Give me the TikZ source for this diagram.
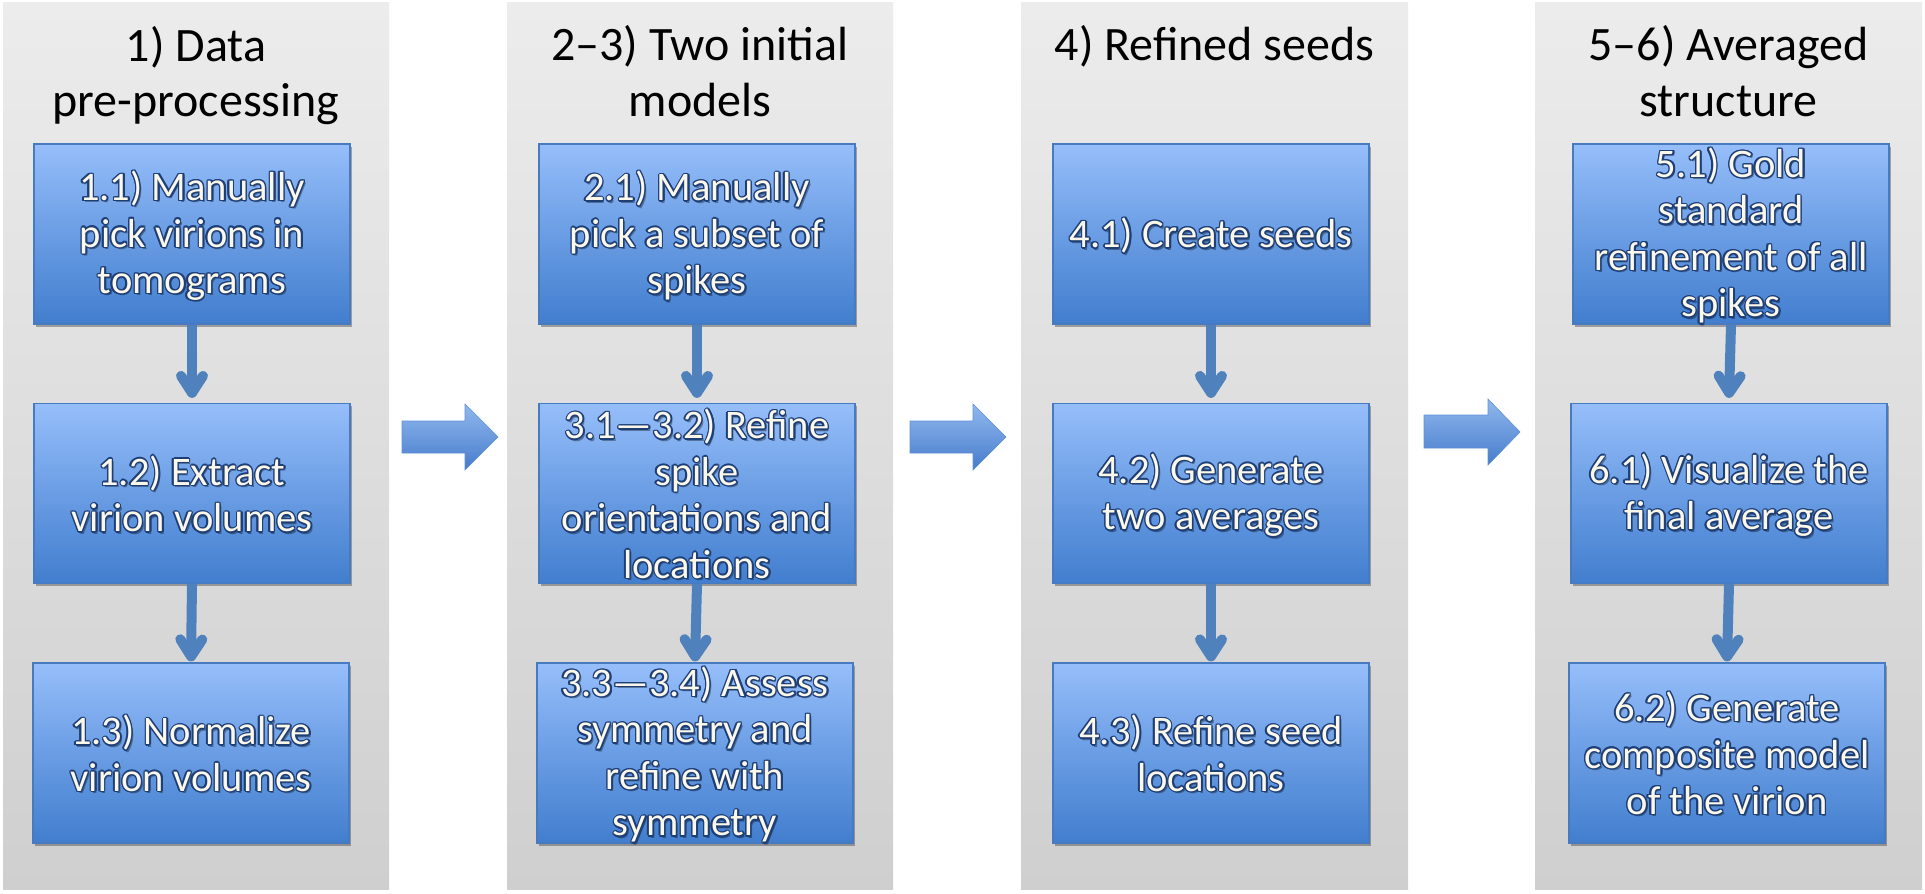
\documentclass[tikz,border=0pt]{standalone}
\usepackage{fontspec}
\setmainfont{Carlito}
\usetikzlibrary{arrows.meta,shadows}
\definecolor{panTop}{RGB}{236,236,236}
\definecolor{panBot}{RGB}{207,207,207}
\definecolor{boxTop}{RGB}{150,190,250}
\definecolor{boxMid}{RGB}{106,157,228}
\definecolor{boxBot}{RGB}{66,126,206}
\definecolor{boxLine}{RGB}{72,122,192}
\definecolor{arrC}{RGB}{79,129,189}
\definecolor{bigTop}{RGB}{145,184,238}
\definecolor{bigBot}{RGB}{70,124,204}
\definecolor{bigLine}{RGB}{95,145,215}
\definecolor{txtCream}{RGB}{251,248,234}
\definecolor{txtDark}{RGB}{30,62,118}
\newcommand\boxtxt[2]{%
  \node[bt,text=black,opacity=0.35] (#1-sh) at ([shift={(1.8pt,-2.4pt)}]#1.center) {\rule{0pt}{33pt}#2\rule[-3pt]{0pt}{3pt}};
  \foreach \ang in {0,30,...,330}{%
    \node[bt,text=txtDark] (#1-o\ang) at ([shift={(\ang:1.4pt)}]#1.center) {\rule{0pt}{33pt}#2\rule[-3pt]{0pt}{3pt}};}
  \node[bt] (#1-t) at (#1.center) {\rule{0pt}{33pt}#2\rule[-3pt]{0pt}{3pt}};}
\begin{document}
\begin{tikzpicture}[x=1pt,y=1pt,
  panel/.style={top color=panTop,bottom color=panBot},
  bx/.style={draw=boxLine,line width=1.2pt,minimum width=316pt,minimum height=180pt,inner sep=0pt,
    top color=boxTop,bottom color=boxBot,middle color=boxMid,
    drop shadow={shadow xshift=1.5pt,shadow yshift=-2.5pt,opacity=0.3,fill=black}},
  bt/.style={text=txtCream,align=center,font=\fontsize{40.5}{46.5}\selectfont,inner sep=0pt},
  ttl/.style={text=black,font=\fontsize{48}{56}\selectfont,anchor=base,inner sep=0pt},
  varrow/.style={draw=arrC,line width=10pt,-{Straight Barb[length=17pt,width=22pt,round]}},
  bigarrow/.style={top color=bigTop,bottom color=bigBot,draw=bigLine,line width=0.6pt}
]
\fill[white] (0,0) rectangle (1925,-894);
\useasboundingbox (0,0) rectangle (1925,-894);
% panels
\shade[panel] (3,-2) rectangle (389,-889);
\shade[panel] (507,-2) rectangle (893,-889);
\shade[panel] (1021,-2) rectangle (1408,-889);
\shade[panel] (1535,-2) rectangle (1922,-889);
% titles
\node[ttl] (t1a) at (196,-61) {1) Data};
\node[ttl] (t1b) at (196,-116) {pre-processing};
\node[ttl] (t2a) at (700,-60) {2–3) Two initial};
\node[ttl] (t2b) at (700,-116) {models};
\node[ttl] (t3a) at (1214.5,-60) {4) Refined seeds};
\node[ttl] (t4a) at (1728.5,-60) {5–6) Averaged};
\node[ttl] (t4b) at (1728.5,-116) {structure};
% big arrows
\shade[bigarrow] (402,-421) -- (465,-421) -- (465,-404) -- (498,-437) -- (465,-470) -- (465,-453) -- (402,-453) -- cycle;
\shade[bigarrow] (910,-421) -- (973,-421) -- (973,-404) -- (1006,-437) -- (973,-470) -- (973,-453) -- (910,-453) -- cycle;
\shade[bigarrow] (1424,-415) -- (1488,-415) -- (1488,-399) -- (1520,-432) -- (1488,-465) -- (1488,-448) -- (1424,-448) -- cycle;
% boxes
\node[bx] (b11) at (192,-234) {};
\node[bx] (b12) at (192,-493.5) {};
\node[bx] (b13) at (191,-753) {};
\node[bx] (b21) at (697,-234) {};
\node[bx] (b31) at (697,-493.5) {};
\node[bx] (b33) at (695,-753) {};
\node[bx] (b41) at (1211,-234) {};
\node[bx] (b42) at (1211,-493.5) {};
\node[bx] (b43) at (1211,-753) {};
\node[bx] (b51) at (1731,-234) {};
\node[bx] (b61) at (1729,-493.5) {};
\node[bx] (b62) at (1727,-753) {};
% vertical arrows
\draw[varrow] (b11.south) -- ([yshift=5pt]b12.north);
\draw[varrow] (b12.south) -- ([yshift=1pt]b13.north);
\draw[varrow] (b21.south) -- ([yshift=5pt]b31.north);
\draw[varrow] (b31.south) -- ([yshift=1pt]b33.north);
\draw[varrow] (b41.south) -- ([yshift=5pt]b42.north);
\draw[varrow] (b42.south) -- ([yshift=1pt]b43.north);
\draw[varrow] (b51.south) -- ([yshift=5pt]b61.north);
\draw[varrow] (b61.south) -- ([yshift=1pt]b62.north);
% box texts
\boxtxt{b11}{1.1) Manually\\pick virions in\\tomograms}
\boxtxt{b12}{1.2) Extract\\virion volumes}
\boxtxt{b13}{1.3) Normalize\\virion volumes}
\boxtxt{b21}{2.1) Manually\\pick a subset of\\spikes}
\boxtxt{b31}{3.1—3.2) Refine\\spike\\orientations and\\locations}
\boxtxt{b33}{3.3—3.4) Assess\\symmetry and\\refine with\\symmetry}
\boxtxt{b41}{4.1) Create seeds}
\boxtxt{b42}{4.2) Generate\\two averages}
\boxtxt{b43}{4.3) Refine seed\\locations}
\boxtxt{b51}{5.1) Gold\\standard\\refinement of all\\spikes}
\boxtxt{b61}{6.1) Visualize the\\final average}
\boxtxt{b62}{6.2) Generate\\composite model\\of the virion}
\end{tikzpicture}
\end{document}
